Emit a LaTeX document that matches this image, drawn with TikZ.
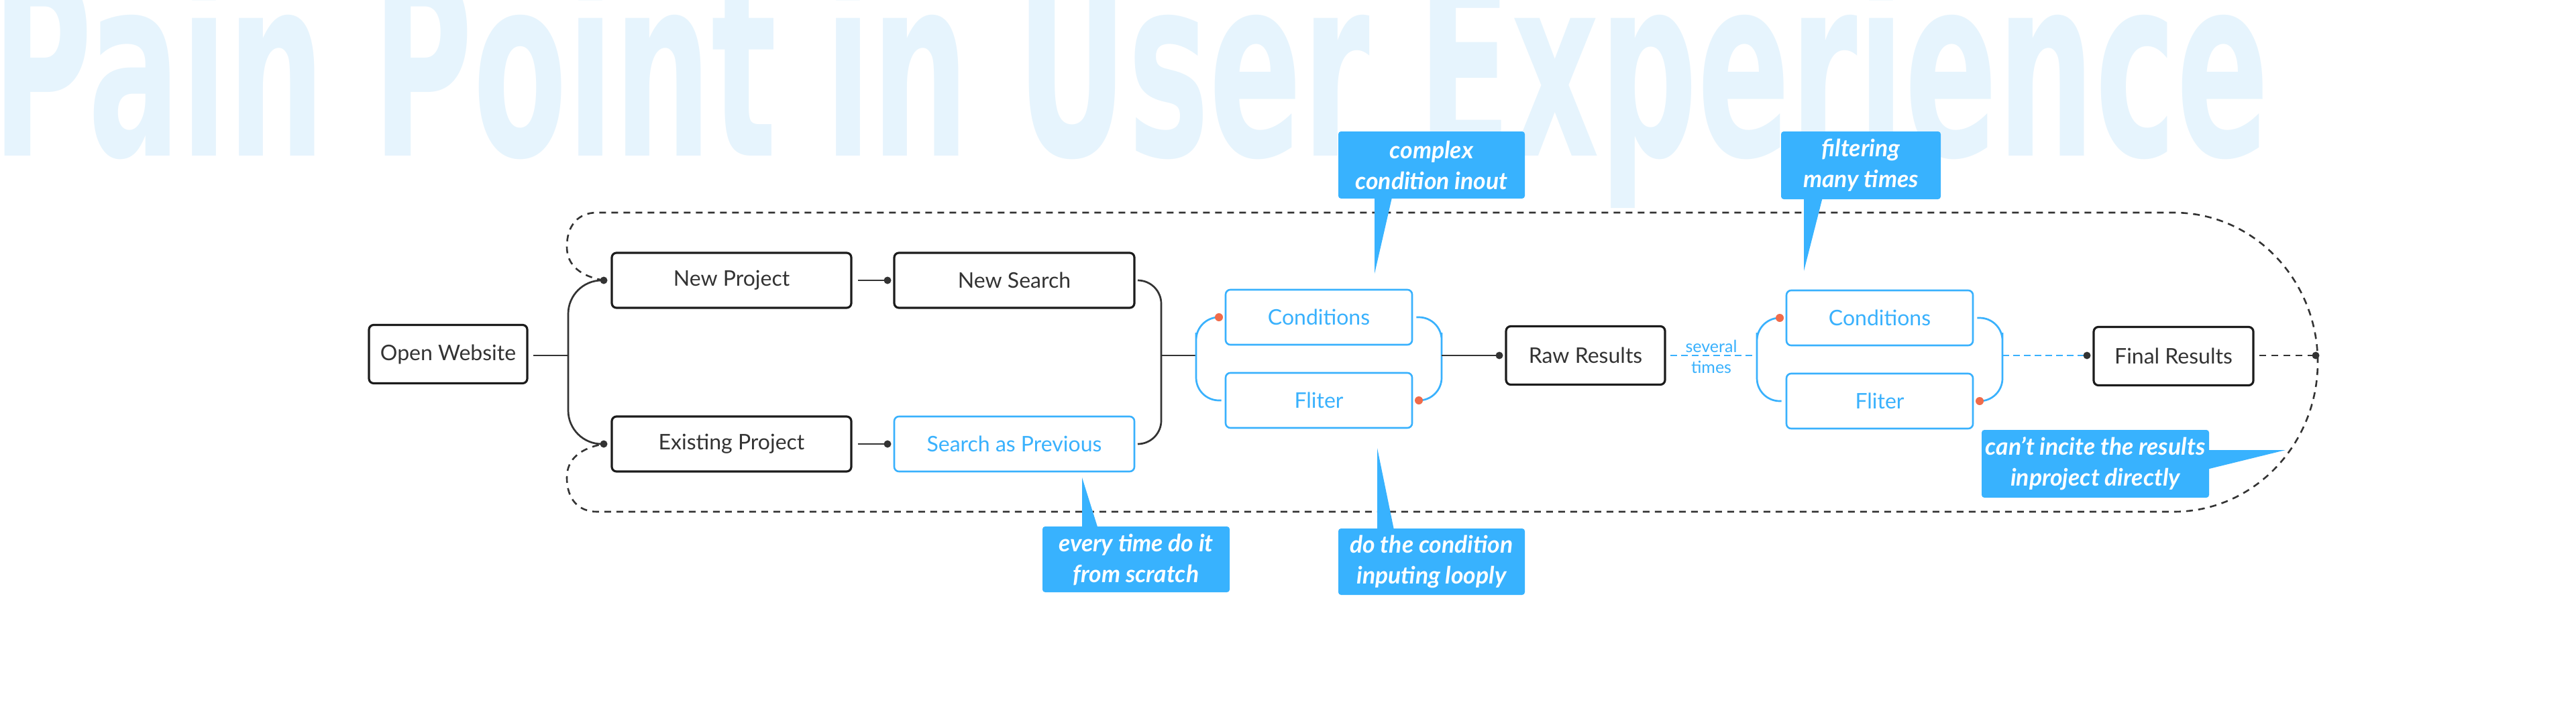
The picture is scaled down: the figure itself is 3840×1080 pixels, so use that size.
\documentclass[tikz,border=0pt]{standalone}
\usepackage{fontspec}
\setmainfont{Lato}
\newfontfamily\titlefont{DejaVu Sans Condensed}
\usetikzlibrary{calc}
\definecolor{ink}{HTML}{333333}
\definecolor{edge}{HTML}{1C1C1C}
\definecolor{sky}{HTML}{39B1FD}
\definecolor{callout}{HTML}{38B2FE}
\definecolor{ttl}{HTML}{E6F4FD}
\definecolor{dotred}{HTML}{F06B4A}
\tikzset{
  box/.style={draw=edge, line width=3.2pt, rounded corners=7pt, minimum height=84pt,
    inner sep=0pt, text=ink, fill=white, font=\fontsize{32}{40}\selectfont},
  bbox/.style={draw=sky, line width=2.6pt, rounded corners=7pt, minimum height=82pt,
    minimum width=278pt, inner sep=0pt, text=sky, fill=white, font=\fontsize{32}{40}\selectfont},
  conn/.style={draw=ink, line width=2.7pt},
  bconn/.style={draw=sky, line width=2.7pt},
  bdash/.style={draw=sky, line width=2.7pt, dash pattern=on 10pt off 6pt},
  loopline/.style={draw=ink, line width=2.6pt, dash pattern=on 10pt off 8pt},
  dot/.style={circle, fill=ink, inner sep=0pt, minimum size=11pt},
  rdot/.style={circle, fill=dotred, inner sep=0pt, minimum size=12pt},
  note/.style={fill=callout, text=white, inner sep=0pt, rounded corners=4pt, align=center,
    font=\fontsize{35.5}{46}\selectfont\bfseries\itshape},
  small/.style={text=sky, inner sep=0pt, anchor=base, font=\fontsize{25}{30}\selectfont},
}
\begin{document}
\begin{tikzpicture}[x=1pt, y=-1pt]
\useasboundingbox (0,0) rectangle (3840,1080);
\clip (0,0) rectangle (3840,1080);
\fill[white] (0,0) rectangle (3840,1080);

% title
\node[anchor=base west, inner sep=0pt, text=ttl] (title) at (-12,232)
  {\resizebox{3392pt}{285pt}{\titlefont\bfseries Pain Point in User Experience}};

% coordinates
\coordinate (pNP) at (900,418);
\coordinate (pEP) at (900,662);
\coordinate (pNS) at (1323,418);
\coordinate (pSP) at (1323,662);
\coordinate (lb)  at (847,530);
\coordinate (rb)  at (1731,530);
\coordinate (bl1) at (1783,530);
\coordinate (br1) at (2149,530);
\coordinate (pC1L) at (1817,473);
\coordinate (pF1R) at (2115,597);
\coordinate (pRR) at (2235,530);
\coordinate (bl2) at (2619,530);
\coordinate (br2) at (2985,530);
\coordinate (pC2L) at (2653,474);
\coordinate (pF2R) at (2951,598);
\coordinate (pFR) at (3111,530);
\coordinate (pEnd) at (3452,530);

% dashed loop
\draw[loopline] (pNP) .. controls (866,412) and (845,396) .. (845,368)
  .. controls (845,336) and (862,317) .. (890,317) -- (3240,317)
  .. controls (3360,317) and (3455,418) .. (3455,540)
  .. controls (3455,662) and (3360,763) .. (3240,763) -- (890,763)
  .. controls (862,763) and (845,744) .. (845,712)
  .. controls (845,684) and (866,668) .. (pEP);

% nodes
\node[box, minimum width=236pt, minimum height=87pt] (ow) at (668,528) {Open Website};
\node[box, minimum width=357pt, minimum height=82pt] (np) at (1090.5,418) {New Project};
\node[box, minimum width=358pt, minimum height=82pt] (ns) at (1512,418) {New Search};
\node[box, minimum width=357pt, minimum height=82pt] (ep) at (1090.5,662) {Existing Project};
\node[bbox, minimum width=358pt] (sp) at (1512,662) {Search as Previous};
\node[bbox] (c1) at (1966,473) {Conditions};
\node[bbox] (f1) at (1966,597) {Fliter};
\node[box, minimum width=237pt, minimum height=87pt] (rr) at (2363.5,530) {Raw Results};
\node[bbox] (c2) at (2802,474) {Conditions};
\node[bbox] (f2) at (2802,598) {Fliter};
\node[box, minimum width=238pt, minimum height=87pt] (fr) at (3240,531) {Final Results};

% connectors
\draw[conn] ([xshift=7pt]ow.east |- lb) -- (lb);
\draw[conn, rounded corners=50pt] (pNP) -| (lb) |- (pEP);
\draw[conn] ([xshift=8pt]np.east) -- (pNS);
\draw[conn] ([xshift=8pt]ep.east) -- (pSP);
\draw[conn, rounded corners=35pt] ([xshift=5pt]ns.east) -| (rb) |- ([xshift=5pt]sp.east);
\draw[conn] (rb) -- (bl1);
\draw[bconn, rounded corners=34pt] (pC1L) -| (bl1) |- ([xshift=-5pt]f1.west);
\draw[bconn, rounded corners=34pt] ([xshift=5pt]c1.east) -| (br1) |- (pF1R);
\draw[conn] (br1) -- (pRR);
\draw[bdash] ([xshift=6pt]rr.east |- bl2) -- (bl2);
\node[small] (sev) at (2551,525) {several};
\node[small] (tim) at (2551,556) {times};
\draw[bconn, rounded corners=34pt] (pC2L) -| (bl2) |- ([xshift=-6pt]f2.west);
\draw[bconn, rounded corners=34pt] ([xshift=5pt]c2.east) -| (br2) |- (pF2R);
\draw[bdash] (br2) -- (pFR);
\draw[loopline] ([xshift=7pt]fr.east |- pEnd) -- (pEnd);

% dots
\node[dot] (dNP) at (pNP) {};
\node[dot] (dEP) at (pEP) {};
\node[dot] (dNS) at (pNS) {};
\node[dot] (dSP) at (pSP) {};
\node[dot] (dRR) at (pRR) {};
\node[dot] (dFR) at (pFR) {};
\node[dot] (dEnd) at (pEnd) {};
\node[rdot] (rC1) at (pC1L) {};
\node[rdot] (rF1) at (pF1R) {};
\node[rdot] (rC2) at (pC2L) {};
\node[rdot] (rF2) at (pF2R) {};

% callouts
\fill[callout] (2049,290) -- (2076,290) -- (2049,408) -- cycle;
\node[note, minimum width=278pt, minimum height=100pt] (n1) at (2134,246) {complex\\condition inout};
\fill[callout] (2689,290) -- (2718,290) -- (2689,404) -- cycle;
\node[note, minimum width=238pt, minimum height=101pt] (n2) at (2774,246.5) {filtering\\many times};
\fill[callout] (1613,792) -- (1638,792) -- (1613,712) -- cycle;
\node[note, minimum width=279pt, minimum height=98pt] (n3) at (1693.5,834) {every time do it\\from scratch};
\fill[callout] (2053,795) -- (2079,795) -- (2053,668) -- cycle;
\node[note, minimum width=278pt, minimum height=99pt] (n4) at (2134,837.5) {do the condition\\inputing looply};
\fill[callout] (3285,671) -- (3407,671) -- (3285,701) -- cycle;
\node[note, minimum width=339pt, minimum height=101pt] (n5) at (3123.5,691.5) {can’t incite the results\\inproject directly};
\end{tikzpicture}
\end{document}
